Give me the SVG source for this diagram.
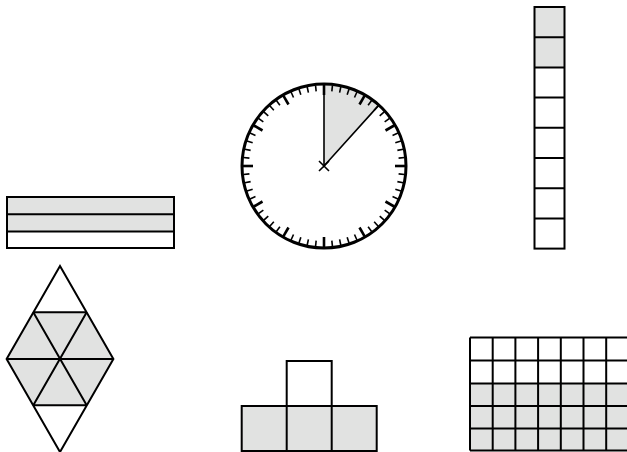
<svg xmlns="http://www.w3.org/2000/svg" xmlns:xlink="http://www.w3.org/1999/xlink" width="627" height="452" viewBox="0 0 627 452">
<style>
.g{fill:#e1e2e1}
.w{fill:#ffffff}
.s{stroke:#000;stroke-width:2;fill:none}
.ln{stroke:#000;stroke-width:1.6;fill:none}
.mi{stroke:#000;stroke-width:1.6}
.ma{stroke:#000;stroke-width:2.6}
</style>
<defs>
<line id="mi" class="mi" x1="0" y1="-81" x2="0" y2="-75"/>
<line id="ma" class="ma" x1="0" y1="-81" x2="0" y2="-71"/>
</defs>
<rect width="627" height="452" fill="#fff"/>
<g id="clock">
<circle cx="324" cy="166" r="82" fill="#fff"/>
<path class="g" d="M324,166 L324,84 A82,82 0 0 1 378.9,105.1 Z"/>
<path class="ln" d="M324,84 L324,166 L378.9,105.1"/>
<g transform="translate(324,166)">
<use xlink:href="#ma" transform="rotate(0)"/><use xlink:href="#mi" transform="rotate(6)"/><use xlink:href="#mi" transform="rotate(12)"/><use xlink:href="#mi" transform="rotate(18)"/><use xlink:href="#mi" transform="rotate(24)"/>
<use xlink:href="#ma" transform="rotate(30)"/><use xlink:href="#mi" transform="rotate(36)"/><use xlink:href="#mi" transform="rotate(42)"/><use xlink:href="#mi" transform="rotate(48)"/><use xlink:href="#mi" transform="rotate(54)"/>
<use xlink:href="#ma" transform="rotate(60)"/><use xlink:href="#mi" transform="rotate(66)"/><use xlink:href="#mi" transform="rotate(72)"/><use xlink:href="#mi" transform="rotate(78)"/><use xlink:href="#mi" transform="rotate(84)"/>
<use xlink:href="#ma" transform="rotate(90)"/><use xlink:href="#mi" transform="rotate(96)"/><use xlink:href="#mi" transform="rotate(102)"/><use xlink:href="#mi" transform="rotate(108)"/><use xlink:href="#mi" transform="rotate(114)"/>
<use xlink:href="#ma" transform="rotate(120)"/><use xlink:href="#mi" transform="rotate(126)"/><use xlink:href="#mi" transform="rotate(132)"/><use xlink:href="#mi" transform="rotate(138)"/><use xlink:href="#mi" transform="rotate(144)"/>
<use xlink:href="#ma" transform="rotate(150)"/><use xlink:href="#mi" transform="rotate(156)"/><use xlink:href="#mi" transform="rotate(162)"/><use xlink:href="#mi" transform="rotate(168)"/><use xlink:href="#mi" transform="rotate(174)"/>
<use xlink:href="#ma" transform="rotate(180)"/><use xlink:href="#mi" transform="rotate(186)"/><use xlink:href="#mi" transform="rotate(192)"/><use xlink:href="#mi" transform="rotate(198)"/><use xlink:href="#mi" transform="rotate(204)"/>
<use xlink:href="#ma" transform="rotate(210)"/><use xlink:href="#mi" transform="rotate(216)"/><use xlink:href="#mi" transform="rotate(222)"/><use xlink:href="#mi" transform="rotate(228)"/><use xlink:href="#mi" transform="rotate(234)"/>
<use xlink:href="#ma" transform="rotate(240)"/><use xlink:href="#mi" transform="rotate(246)"/><use xlink:href="#mi" transform="rotate(252)"/><use xlink:href="#mi" transform="rotate(258)"/><use xlink:href="#mi" transform="rotate(264)"/>
<use xlink:href="#ma" transform="rotate(270)"/><use xlink:href="#mi" transform="rotate(276)"/><use xlink:href="#mi" transform="rotate(282)"/><use xlink:href="#mi" transform="rotate(288)"/><use xlink:href="#mi" transform="rotate(294)"/>
<use xlink:href="#ma" transform="rotate(300)"/><use xlink:href="#mi" transform="rotate(306)"/><use xlink:href="#mi" transform="rotate(312)"/><use xlink:href="#mi" transform="rotate(318)"/><use xlink:href="#mi" transform="rotate(324)"/>
<use xlink:href="#ma" transform="rotate(330)"/><use xlink:href="#mi" transform="rotate(336)"/><use xlink:href="#mi" transform="rotate(342)"/><use xlink:href="#mi" transform="rotate(348)"/><use xlink:href="#mi" transform="rotate(354)"/>
</g>
<path class="ln" d="M319,161 L329,171 M329,161 L319,171"/>
<circle cx="324" cy="166" r="82" fill="none" stroke="#000" stroke-width="3"/>
</g>
<g id="bars">
<rect class="g" x="7" y="197" width="167" height="34.5"/>
<rect class="w" x="7" y="231.5" width="167" height="16.5"/>
<path class="s" d="M7,214.3 H174 M7,231.5 H174"/>
<rect class="s" x="7" y="197" width="167" height="51"/>
</g>
<g id="column">
<rect class="g" x="534.5" y="7" width="30" height="60.5"/>
<path class="s" d="M534.5,37.2 H564.5 M534.5,67.4 H564.5 M534.5,97.6 H564.5 M534.5,127.8 H564.5 M534.5,158 H564.5 M534.5,188.2 H564.5 M534.5,218.4 H564.5"/>
<rect class="s" x="534.5" y="7" width="30" height="241.6"/>
</g>
<g id="rhombus">
<polygon class="g" points="33.3,312.3 86.7,312.3 113.4,359 86.7,405.3 33.3,405.3 6.6,359"/>
<polygon class="s" points="60,266 113.4,359 60,452 6.6,359"/>
<path class="s" d="M33.3,312.3 H86.7 M33.3,405.3 H86.7 M6.6,359 H113.4 M33.3,312.3 L86.7,405.3 M86.7,312.3 L33.3,405.3"/>
</g>
<g id="tshape">
<rect class="g" x="241.7" y="406" width="135" height="45"/>
<rect class="s" x="286.7" y="361" width="45" height="45"/>
<path class="s" d="M286.7,406 V451 M331.7,406 V451"/>
<rect class="s" x="241.7" y="406" width="135" height="45"/>
</g>
<g id="grid">
<rect class="g" x="470" y="383.5" width="160" height="67"/>
<path class="s" d="M470,337.5 H640 M470,360.5 H640 M470,383.5 H640 M470,406 H640 M470,428.5 H640 M470,450.5 H640 M470,337.5 V450.5 M492.7,337.5 V450.5 M515.4,337.5 V450.5 M538.1,337.5 V450.5 M560.8,337.5 V450.5 M583.5,337.5 V450.5 M606.2,337.5 V450.5 M628.9,337.5 V450.5"/>
</g>
</svg>
